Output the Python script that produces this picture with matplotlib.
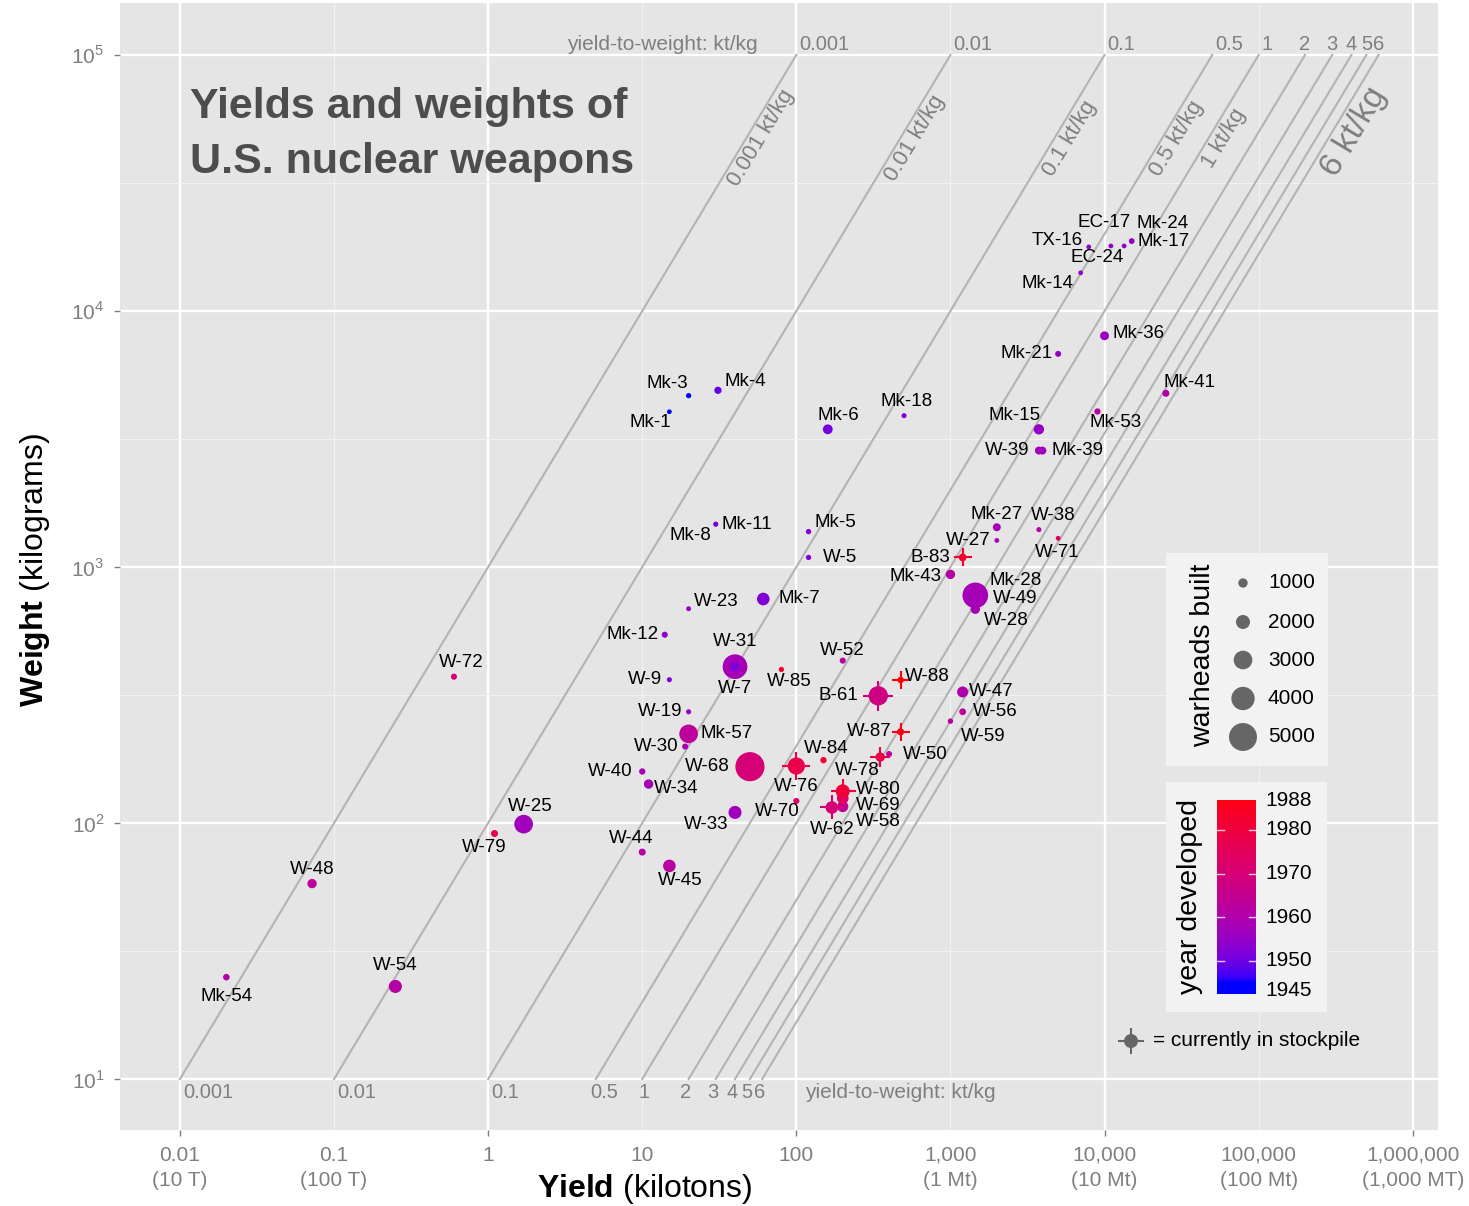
import numpy as np
import matplotlib
matplotlib.use("Agg")
import matplotlib.pyplot as plt
from matplotlib.colors import ListedColormap, Normalize
from matplotlib.patches import Rectangle
from matplotlib.ticker import FixedLocator, FixedFormatter, NullFormatter

plt.rcParams['font.family'] = ['Liberation Sans', 'DejaVu Sans']
plt.rcParams['mathtext.fontset'] = 'custom'
plt.rcParams['mathtext.rm'] = 'Liberation Sans'
plt.rcParams['mathtext.bf'] = 'Liberation Sans:bold'

# ---- data: weapon, yield (kt), weight (kg), year developed, warheads built, in stockpile
names = ["Mk-1", "Mk-3", "Mk-4", "Mk-5", "W-5", "Mk-6", "Mk-7", "W-7", "Mk-8", "Mk-11",
         "W-9", "Mk-12", "Mk-14", "Mk-15", "TX-16", "Mk-17", "EC-17", "Mk-18", "W-19", "Mk-21",
         "W-23", "Mk-24", "EC-24", "W-25", "Mk-27", "W-27", "Mk-28", "W-28", "W-30", "W-31",
         "W-33", "W-34", "Mk-36", "W-38", "Mk-39", "W-39", "W-40", "Mk-41", "Mk-43", "W-44",
         "W-45", "W-47", "W-48", "W-49", "W-50", "W-52", "Mk-53", "Mk-54", "W-54", "W-56",
         "Mk-57", "W-58", "W-59", "B-61", "W-62", "W-68", "W-69", "W-70", "W-71", "W-72",
         "W-76", "W-78", "W-79", "W-80", "B-83", "W-84", "W-85", "W-87", "W-88"]
yield_kt = [15, 20, 31, 120, 120, 160, 61, 40, 30, 30,
            15, 14, 7000, 3750, 7900, 15000, 11000, 500, 20, 5000,
            20, 15000, 13400, 1.7, 2000, 2000, 1450, 1450, 19, 40,
            40, 11, 10000, 3750, 3950, 3750, 10, 25000, 1000, 10,
            15, 1200, 0.072, 1450, 400, 200, 9000, 0.02, 0.25, 1200,
            20, 200, 1000, 340, 170, 50, 200, 100, 5000, 0.6,
            100, 350, 1.1, 200, 1200, 150, 80, 475, 475]
weight_kg = [4040, 4670, 4900, 1375, 1090, 3450, 750, 408, 1470, 1470,
             363, 544, 14100, 3450, 17800, 18750, 17950, 3900, 272, 6800,
             687, 18750, 17950, 99, 1430, 1270, 775, 684, 199, 408,
             110, 142, 8000, 1400, 2850, 2850, 159, 4770, 936, 77,
             68, 325, 58, 775, 186, 431, 4050, 25, 23, 272,
             223, 116, 250, 314, 115, 166, 125, 122, 1295, 373,
             167, 181, 91, 133, 1090, 176, 398, 227, 362]
year = [1945, 1945, 1949, 1952, 1952, 1951, 1952, 1952, 1951, 1956,
        1952, 1954, 1954, 1955, 1954, 1954, 1954, 1953, 1956, 1955,
        1956, 1954, 1954, 1957, 1958, 1958, 1958, 1958, 1959, 1958,
        1957, 1958, 1956, 1961, 1957, 1957, 1959, 1960, 1961, 1961,
        1962, 1960, 1963, 1958, 1963, 1962, 1962, 1961, 1961, 1963,
        1963, 1964, 1962, 1968, 1970, 1970, 1972, 1973, 1974, 1970,
        1978, 1979, 1976, 1981, 1983, 1983, 1983, 1986, 1988]
built = [5, 120, 550, 140, 140, 1100, 1700, 1100, 40, 40,
         80, 300, 5, 1200, 5, 200, 5, 90, 80, 275,
         50, 105, 10, 3000, 700, 20, 4500, 1000, 300, 4300,
         1800, 1000, 900, 80, 700, 700, 350, 500, 1000, 500,
         1700, 1360, 1000, 500, 280, 300, 340, 400, 1800, 450,
         3000, 1400, 150, 3155, 1700, 5250, 1500, 300, 30, 300,
         2700, 1000, 500, 2000, 650, 350, 120, 525, 400]
in_stockpile = ["B-61", "B-83", "W-62", "W-76", "W-78", "W-80", "W-87", "W-88"]

ratios = [0.001, 0.01, 0.1, 0.5, 1, 2, 3, 4, 5, 6]
ratio_text = ["0.001", "0.01", "0.1", "0.5", "1", "2", "3", "4", "5", "6"]
slanted = {0.001: "0.001 kt/kg", 0.01: "0.01 kt/kg", 0.1: "0.1 kt/kg",
           0.5: "0.5 kt/kg", 1: "1 kt/kg", 6: "6 kt/kg"}

xticks_major = [0.01, 1, 100, 1e4, 1e6]
xlabels_major = ["0.01\n(10 T)", "1", "100", "10,000\n(10 Mt)", "1,000,000\n(1,000 MT)"]
xticks_minor = [0.1, 10, 1e3, 1e5]
xlabels_minor = ["0.1\n(100 T)", "10", "1,000\n(1 Mt)", "100,000\n(100 Mt)"]
yticks = [1e1, 1e2, 1e3, 1e4, 1e5]
legend_sizes = [1000, 2000, 3000, 4000, 5000]
legend_years = [1945, 1950, 1960, 1970, 1980, 1988]

# label offsets (pixels) from each point
label_off = {
    "Mk-1": (-19, -11), "Mk-3": (-21, 12), "Mk-4": (27, 9), "Mk-5": (27, 9), "W-5": (32, 0),
    "Mk-6": (11, 14), "Mk-7": (36, 0), "W-7": (0, -22), "Mk-8": (-25, -11), "Mk-11": (31, 0),
    "W-9": (-24, 0), "Mk-12": (-32, 0), "Mk-14": (-33, -11), "Mk-15": (-24, 14),
    "TX-16": (-32, 6), "Mk-17": (32, 0), "EC-17": (-7, 23), "Mk-18": (3, 14), "W-19": (-28, 0),
    "Mk-21": (-32, 0), "W-23": (28, 7), "Mk-24": (31, 18), "EC-24": (-27, -12), "W-25": (7, 18),
    "Mk-27": (0, 13), "W-27": (-29, 0), "Mk-28": (40, 15), "W-28": (31, -11), "W-30": (-29, 0),
    "W-31": (0, 25), "W-33": (-29, -12), "W-34": (28, -4), "Mk-36": (34, 2), "W-38": (14, 14),
    "Mk-39": (35, 0), "W-39": (-32, 0), "W-40": (-32, 0), "Mk-41": (24, 11), "Mk-43": (-35, -2),
    "W-44": (-11, 14), "W-45": (11, -15), "W-47": (29, 0), "W-48": (0, 14), "W-49": (40, -3),
    "W-50": (36, 0), "W-52": (0, 10), "Mk-53": (18, -11), "Mk-54": (0, -19), "W-54": (0, 21),
    "W-56": (33, 0), "Mk-57": (38, 0), "W-58": (36, -15), "W-59": (33, -15), "B-61": (-40, 0),
    "W-62": (0, -22), "W-68": (-43, 0), "W-69": (36, -7), "W-70": (-19, -11), "W-71": (-1, -14),
    "W-72": (7, 14), "W-76": (0, -20), "W-78": (-23, -13), "W-79": (-10, -14), "W-80": (36, 2),
    "B-83": (-32, 0), "W-84": (3, 12), "W-85": (8, -12), "W-87": (-31, 0), "W-88": (27, 3),
}


# ---- blue -> red gradient interpolated in CIELAB (like ggplot)
M = np.array([[0.4124, 0.3576, 0.1805], [0.2126, 0.7152, 0.0722], [0.0193, 0.1192, 0.9505]])
WP = np.array([0.95047, 1.0, 1.08883])


def srgb_to_lab(rgb):
    rgb = np.asarray(rgb, float)
    lin = np.where(rgb <= 0.04045, rgb / 12.92, ((rgb + 0.055) / 1.055) ** 2.4)
    t = (M @ lin) / WP
    f = np.where(t > (6 / 29) ** 3, np.cbrt(t), t / (3 * (6 / 29) ** 2) + 4 / 29)
    return np.array([116 * f[1] - 16, 500 * (f[0] - f[1]), 200 * (f[1] - f[2])])


def lab_to_srgb(lab):
    L, a, b = lab
    fy_ = (L + 16) / 116
    f = np.array([fy_ + a / 500, fy_, fy_ - b / 200])
    t = np.where(f > 6 / 29, f ** 3, 3 * (6 / 29) ** 2 * (f - 4 / 29))
    lin = np.clip(np.linalg.inv(M) @ (t * WP), 0, 1)
    rgb = np.where(lin <= 0.0031308, 12.92 * lin, 1.055 * lin ** (1 / 2.4) - 0.055)
    return np.clip(rgb, 0, 1)


lab_lo, lab_hi = srgb_to_lab([0, 0, 1]), srgb_to_lab([1, 0, 0])
cmap = ListedColormap([lab_to_srgb(lab_lo + (lab_hi - lab_lo) * t) for t in np.linspace(0, 1, 256)])
norm = Normalize(min(year), max(year))


def dot_size(n):
    d = 4.7 + 4.65 * np.asarray(n, float) / 1000.0   # diameter in pixels
    return (d * 0.72) ** 2


Wpx, Hpx = 1469, 1206
fig = plt.figure(figsize=(Wpx / 100, Hpx / 100), dpi=100)
ax = fig.add_axes([120 / Wpx, 1 - 1130 / Hpx, 1318 / Wpx, 1127 / Hpx])
ax.set_facecolor('#E5E5E5')
for s in ax.spines.values():
    s.set_visible(False)
ax.set_xscale('log')
ax.set_yscale('log')
ax.set_xlim(10 ** -2.389, 10 ** 6.164)
ax.set_ylim(10 ** 0.801, 10 ** 5.203)
ax.set_axisbelow(True)

gray = '#7F7F7F'
ax.xaxis.set_major_locator(FixedLocator(xticks_major))
ax.xaxis.set_major_formatter(FixedFormatter(xlabels_major))
ax.xaxis.set_minor_locator(FixedLocator(xticks_minor))
ax.xaxis.set_minor_formatter(FixedFormatter(xlabels_minor))
ax.yaxis.set_major_locator(FixedLocator(yticks))
ax.yaxis.set_major_formatter(FixedFormatter([r"$10^{%d}$" % k for k in range(1, 6)]))
ax.yaxis.set_minor_locator(FixedLocator([10 ** (k + 0.5) for k in range(1, 5)]))
ax.yaxis.set_minor_formatter(NullFormatter())
ax.tick_params(which='major', length=4.3, width=1, color=gray, labelcolor=gray, labelsize=15, pad=7)
ax.tick_params(axis='x', which='minor', length=0, labelcolor=gray, labelsize=15, pad=11.3)
ax.tick_params(axis='y', which='minor', length=0)
for lbl in ax.get_xticklabels(which='both'):
    lbl.set_linespacing(1.4)
ax.grid(which='major', color='white', lw=1.7)
ax.grid(which='minor', color='#F2F2F2', lw=0.8)

ax.set_xlabel(r"$\mathbf{Yield}$ (kilotons)", fontsize=23, va='center')
ax.xaxis.set_label_coords((645 - 120) / 1318, -(1189 - 1130) / 1127)
ax.set_ylabel(r"$\mathbf{Weight}$ (kilograms)", fontsize=23, va='center')
ax.yaxis.set_label_coords(-(120 - 35) / 1318, (1130 - 570) / 1127)

# ---- yield-to-weight lines
angle = np.degrees(np.arctan(256.0 / 154.1))
line_col = '#B3B3B3'
for r, txt in zip(ratios, ratio_text):
    ax.plot([r * 10, r * 1e5], [10, 1e5], color=line_col, lw=1.5, zorder=1.5)
    if r <= 1:
        ax.annotate(txt, (r * 1e5, 1e5), xytext=(3, 10), textcoords='offset pixels',
                    ha='left', va='center', color=gray, fontsize=14.5)
    else:
        ax.annotate(txt, (r * 1e5, 1e5), xytext=(0, 10), textcoords='offset pixels',
                    ha='center', va='center', color=gray, fontsize=14.5)
    if r <= 0.1:
        bx, bha = 3, 'left'
    elif r == 0.5:
        bx, bha = 8, 'center'
    elif r == 1:
        bx, bha = 2, 'center'
    else:
        bx, bha = -3, 'center'
    ax.annotate(txt, (r * 10, 10), xytext=(bx, -13), textcoords='offset pixels',
                ha=bha, va='center', color=gray, fontsize=14.5)
    if r in slanted:
        big = (r == 6)
        w_lab = 10 ** (4.70 if big else 4.675)
        ax.annotate(slanted[r], (r * w_lab, w_lab), xytext=(22 if big else 15, 0),
                    textcoords='offset pixels', rotation=angle, rotation_mode='anchor',
                    ha='center', va='center', color=gray, fontsize=24 if big else 16)

ax.annotate("yield-to-weight: kt/kg", (100, 1e5), xytext=(-39, 10), textcoords='offset pixels',
            ha='right', va='center', color=gray, fontsize=15)
ax.annotate("yield-to-weight: kt/kg", (100, 10), xytext=(9, -13), textcoords='offset pixels',
            ha='left', va='center', color=gray, fontsize=15)

# ---- points (drawn in alphabetical order of name)
order = sorted(range(len(names)), key=lambda i: names[i])
for i in order:
    col = cmap(norm(year[i]))
    d = 4.7 + 4.65 * built[i] / 1000.0
    if names[i] in in_stockpile:
        ax.scatter([yield_kt[i]], [weight_kg[i]], s=((d + 11) * 0.72) ** 2, marker='+',
                   color=col, linewidths=1.5, zorder=3)
    ax.scatter([yield_kt[i]], [weight_kg[i]], s=dot_size(built[i]), color=col,
               edgecolors='none', zorder=3)
    dx, dy = label_off[names[i]]
    ax.annotate(names[i], (yield_kt[i], weight_kg[i]), xytext=(dx, dy), textcoords='offset pixels',
                ha='center', va='center', fontsize=13.5, color='black', zorder=5)

# ---- overlay in figure pixels for title and legends
ov = fig.add_axes([0, 0, 1, 1])
ov.set_axis_off()
ov.text(190, 107, "Yields and weights of", fontsize=31, fontweight='bold', color='#4D4D4D',
        ha='left', va='center')
ov.text(190, 162, "U.S. nuclear weapons", fontsize=31, fontweight='bold', color='#4D4D4D',
        ha='left', va='center')

# size legend
ov.add_patch(Rectangle((1166, 553), 162, 213, fc='#F2F2F2', ec='none', zorder=1))
ov.text(1203.5, 655, "warheads built", rotation=90, fontsize=20.5, ha='center', va='center')
size_y = [583, 622, 660, 698.5, 737]
ov.scatter([1243] * len(legend_sizes), size_y, s=dot_size(legend_sizes), color='#666666',
           edgecolors='none', zorder=2)
for yy, n in zip(size_y, legend_sizes):
    ov.text(1268, yy, str(n), fontsize=15, ha='left', va='center')

# colour legend
ov.add_patch(Rectangle((1166, 782), 161, 230, fc='#F2F2F2', ec='none', zorder=1))
ov.text(1190, 896, "year developed", rotation=90, fontsize=20.5, ha='center', va='center')
y_top, y_bot = 1986.87, 1942.44
grad = np.linspace(y_top, y_bot, 200)[:, None]
ov.imshow(cmap(norm(np.clip(grad, 1945, 1988))), extent=(1217.5, 1256, 994, 800),
          aspect='auto', origin='upper', interpolation='bilinear', zorder=2)


def cb_y(yr):
    return 994 - (yr - y_bot) / (y_top - y_bot) * 194


for yr in legend_years:
    if yr == min(legend_years):
        ypos = cb_y(y_bot + 0.9)
    elif yr == max(legend_years):
        ypos = cb_y(y_top - 0.1)
    else:
        ypos = cb_y(yr)
        ov.plot([1217.5, 1224.5], [ypos] * 2, color='white', lw=1, alpha=0.8, zorder=3)
        ov.plot([1249, 1256], [ypos] * 2, color='white', lw=1, alpha=0.8, zorder=3)
    ov.text(1265, ypos, str(yr), fontsize=15, ha='left', va='center')

# stockpile note
ov.scatter([1131], [1041], s=(26 * 0.72) ** 2, marker='+', color='#666666', linewidths=1.5)
ov.scatter([1131], [1041], s=(14 * 0.72) ** 2, color='#666666', edgecolors='none')
ov.text(1153, 1041, "= currently in stockpile", fontsize=15, ha='left', va='center')

ov.set_xlim(0, Wpx)
ov.set_ylim(Hpx, 0)

fig.savefig("out.png", dpi=100, facecolor='white')
